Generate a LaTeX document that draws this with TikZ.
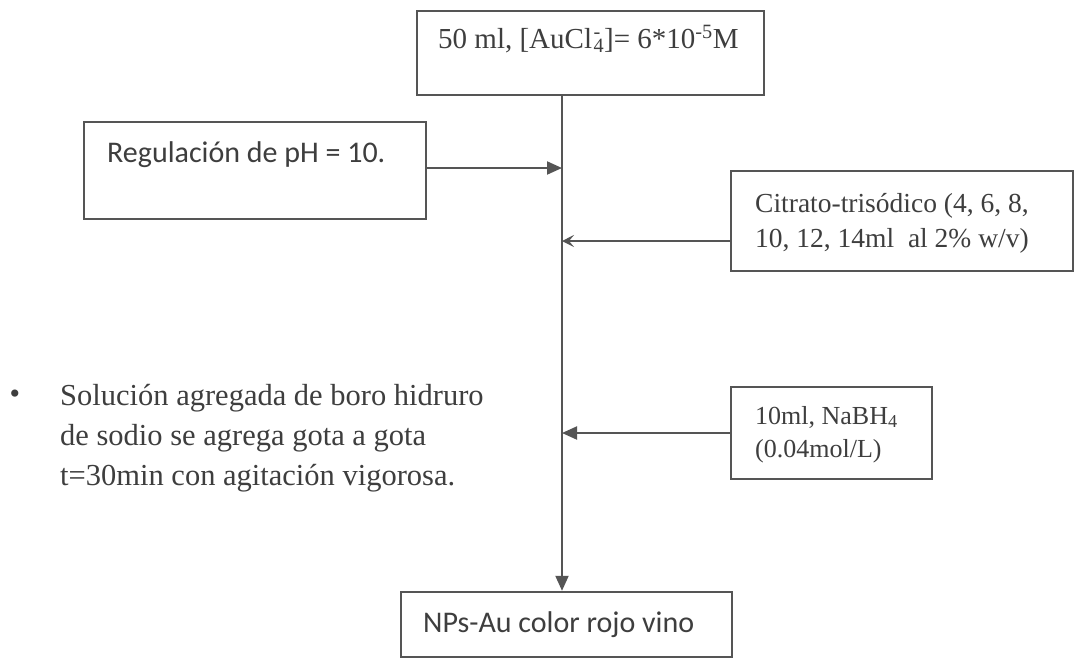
\documentclass[tikz,border=0pt]{standalone}
\usepackage{fontspec}
\setmainfont{Liberation Serif}
\newfontfamily\calibfont{Carlito}
\usetikzlibrary{arrows.meta}
\definecolor{linec}{RGB}{85,85,85}
\definecolor{txtc}{RGB}{62,62,62}

\begin{document}
\begin{tikzpicture}[x=1pt,y=-1pt,
  box/.style={draw=linec, line width=2.4pt, inner sep=0pt, rectangle},
  flow/.style={draw=linec, line width=2pt},
  tip/.style={-{Triangle[length=15pt,width=13pt]}},
  chev/.style={-{Stealth[length=12pt,width=12pt,inset=5pt]}},
  txt/.style={text=txtc, inner sep=0pt, align=left},
]
\useasboundingbox[fill=white] (0,0) rectangle (1075,659);

% boxes
\node[box, minimum width=347pt, minimum height=84pt] (top) at (590.5,53) {};
\node[box, minimum width=342pt, minimum height=97pt] (reg) at (255,170.5) {};
\node[box, minimum width=342pt, minimum height=100pt] (cit) at (902,221) {};
\node[box, minimum width=201pt, minimum height=92pt] (nab) at (831.5,433) {};
\node[box, minimum width=331pt, minimum height=65pt] (bot) at (566.5,624.5) {};

% box texts
\node[txt, anchor=base west, font=\fontsize{29}{35}\selectfont] (toptext) at (438,48)
  {50 ml, [AuCl\kern1.5pt\rlap{\textsuperscript{-}}\textsubscript{4}]= 6*10\textsuperscript{-5}M};
\node[txt, anchor=base west, font=\calibfont\fontsize{30}{36}\selectfont] (regtext) at (107,162)
  {Regulación de pH = 10.};
\node[txt, anchor=north west, font=\fontsize{27.5}{35}\selectfont] (cittext) at (755,193)
  {Citrato-trisódico (4, 6, 8,\\10, 12, 14ml\ \ al 2\% w/v)};
\node[txt, anchor=north west, font=\fontsize{26}{33}\selectfont] (nabtext) at (755,406)
  {10ml, NaBH\textsubscript{4}\\(0.04mol/L)};
\node[txt, anchor=base west, font=\calibfont\fontsize{30}{36}\selectfont] (bottext) at (423,632)
  {NPs-Au color rojo vino};

% side note
\node[txt, font=\fontsize{30}{36}\selectfont] (dot) at (15,397) {•};
\node[txt, anchor=north west, font=\fontsize{30.5}{40}\selectfont] (note) at (60,384)
  {Solución agregada de boro hidruro\\de sodio se agrega gota a gota\\t=30min con agitación vigorosa.};

% main line and feeds
\coordinate (sx) at (562,0);
\coordinate (ry) at (0,168);
\coordinate (cy) at (0,241);
\draw[flow, tip] (top.south -| sx) -- (bot.north -| sx);
\draw[flow, tip] (reg.east |- ry) -- (sx |- ry);
\draw[flow, chev] (cit.west |- cy) -- (sx |- cy);
\draw[flow, tip] (nab.west) -- (nab.west -| sx);
\end{tikzpicture}
\end{document}
